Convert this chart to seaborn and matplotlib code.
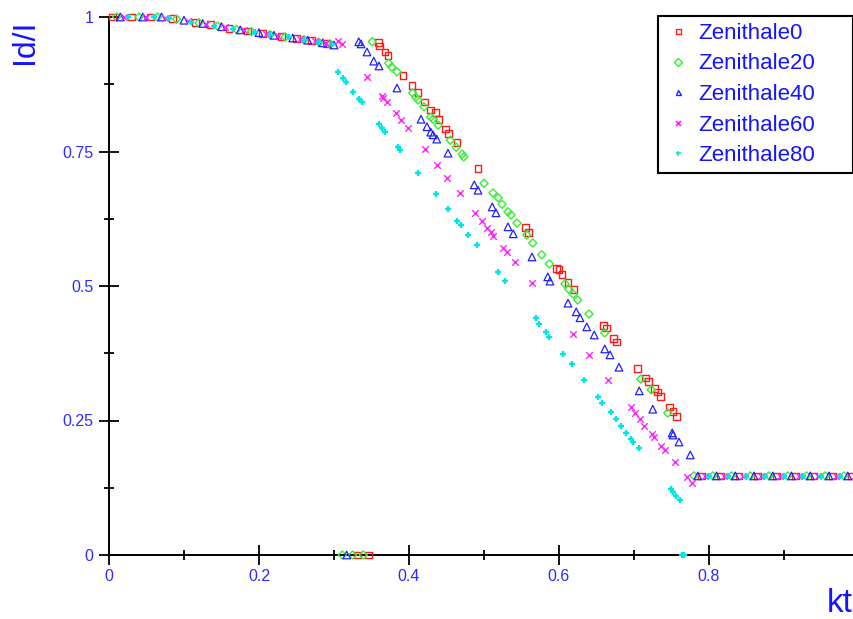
import matplotlib
matplotlib.use("Agg")
import matplotlib.pyplot as plt
import pandas as pd
import seaborn as sns
from matplotlib.lines import Line2D
from matplotlib.ticker import FixedLocator, FuncFormatter

# ---------------- data ----------------
series_names = ["Zenithale0", "Zenithale20", "Zenithale40", "Zenithale60", "Zenithale80"]

kt_z0 = [0.005, 0.03, 0.055, 0.085, 0.115, 0.135, 0.16, 0.185, 0.205, 0.23, 0.25, 0.27, 0.29,
         0.331, 0.346,
         0.359, 0.361, 0.368, 0.372, 0.392, 0.404, 0.412, 0.421, 0.429, 0.435, 0.440, 0.449, 0.453,
         0.464, 0.492, 0.555, 0.559, 0.597, 0.600, 0.604, 0.612, 0.620, 0.659, 0.663, 0.673, 0.677,
         0.705, 0.715, 0.719, 0.727, 0.731, 0.735, 0.747, 0.752, 0.757,
         0.79, 0.815, 0.84, 0.865, 0.89, 0.915, 0.94, 0.965, 0.99]
id_z0 = [1.0, 1.0, 1.0, 0.997, 0.990, 0.986, 0.979, 0.974, 0.970, 0.964, 0.960, 0.956, 0.951,
         0.0, 0.0,
         0.952, 0.946, 0.935, 0.928, 0.892, 0.872, 0.859, 0.842, 0.827, 0.822, 0.809, 0.792, 0.784,
         0.766, 0.719, 0.608, 0.600, 0.533, 0.530, 0.522, 0.507, 0.494, 0.426, 0.422, 0.403, 0.396,
         0.346, 0.329, 0.323, 0.310, 0.303, 0.294, 0.275, 0.266, 0.257,
         0.147, 0.147, 0.147, 0.147, 0.147, 0.147, 0.147, 0.147, 0.147]

kt_z20 = [0.01, 0.04, 0.065, 0.09, 0.12, 0.145, 0.17, 0.19, 0.215, 0.235, 0.26, 0.28, 0.295,
          0.311, 0.325, 0.339,
          0.351, 0.373, 0.377, 0.384, 0.405, 0.409, 0.412, 0.420, 0.429, 0.432, 0.439, 0.455, 0.463,
          0.471, 0.473, 0.500, 0.512, 0.519, 0.524, 0.532, 0.536, 0.544, 0.557, 0.565, 0.577, 0.587,
          0.608, 0.613, 0.619, 0.625, 0.640, 0.661, 0.709, 0.723, 0.745,
          0.78, 0.805, 0.83, 0.855, 0.88, 0.905, 0.93, 0.955, 0.98]
id_z20 = [1.0, 1.0, 1.0, 0.996, 0.989, 0.983, 0.977, 0.973, 0.967, 0.963, 0.958, 0.953, 0.950,
          0.0, 0.0, 0.0,
          0.954, 0.914, 0.907, 0.898, 0.859, 0.851, 0.846, 0.833, 0.814, 0.810, 0.799, 0.771, 0.758,
          0.745, 0.740, 0.691, 0.673, 0.664, 0.652, 0.638, 0.632, 0.617, 0.595, 0.580, 0.558, 0.541,
          0.504, 0.494, 0.485, 0.474, 0.448, 0.413, 0.327, 0.307, 0.264,
          0.147, 0.147, 0.147, 0.147, 0.147, 0.147, 0.147, 0.147, 0.147]

kt_z40 = [0.015, 0.045, 0.07, 0.1, 0.125, 0.15, 0.175, 0.2, 0.22, 0.245, 0.265, 0.285, 0.3,
          0.317,
          0.333, 0.336, 0.344, 0.353, 0.360, 0.384, 0.416, 0.424, 0.429, 0.432, 0.437, 0.452, 0.487,
          0.492, 0.511, 0.516, 0.532, 0.539, 0.564, 0.585, 0.588, 0.612, 0.623, 0.628, 0.637, 0.647,
          0.661, 0.668, 0.680, 0.707, 0.725, 0.751, 0.752, 0.760, 0.775,
          0.785, 0.81, 0.835, 0.86, 0.885, 0.91, 0.935, 0.96, 0.985]
id_z40 = [1.0, 1.0, 1.0, 0.994, 0.988, 0.982, 0.976, 0.971, 0.966, 0.961, 0.957, 0.952, 0.948,
          0.0,
          0.954, 0.950, 0.935, 0.918, 0.909, 0.868, 0.810, 0.796, 0.786, 0.781, 0.773, 0.747, 0.688,
          0.678, 0.647, 0.636, 0.610, 0.597, 0.554, 0.517, 0.509, 0.468, 0.452, 0.441, 0.424, 0.409,
          0.383, 0.372, 0.349, 0.305, 0.271, 0.227, 0.223, 0.210, 0.186,
          0.147, 0.147, 0.147, 0.147, 0.147, 0.147, 0.147, 0.147, 0.147]

kt_z60 = [0.02, 0.05, 0.075, 0.105, 0.13, 0.155, 0.18, 0.21, 0.225, 0.255, 0.275, 0.29,
          0.305, 0.311, 0.344, 0.364, 0.365, 0.371, 0.383, 0.389, 0.399, 0.421, 0.437, 0.451, 0.468,
          0.488, 0.497, 0.504, 0.509, 0.512, 0.525, 0.531, 0.541, 0.564, 0.619, 0.640, 0.665, 0.696,
          0.701, 0.708, 0.713, 0.724, 0.727, 0.736, 0.741, 0.755, 0.771, 0.777,
          0.795, 0.82, 0.845, 0.87, 0.895, 0.92, 0.945, 0.97, 0.995]
id_z60 = [1.0, 1.0, 0.999, 0.993, 0.987, 0.981, 0.975, 0.968, 0.965, 0.959, 0.955, 0.951,
          0.955, 0.950, 0.888, 0.853, 0.849, 0.842, 0.822, 0.809, 0.794, 0.755, 0.725, 0.701, 0.673,
          0.636, 0.621, 0.608, 0.600, 0.593, 0.571, 0.563, 0.545, 0.506, 0.411, 0.372, 0.325, 0.275,
          0.264, 0.253, 0.240, 0.225, 0.219, 0.203, 0.195, 0.173, 0.145, 0.134,
          0.147, 0.147, 0.147, 0.147, 0.147, 0.147, 0.147, 0.147, 0.147]

kt_z80 = [0.025, 0.06, 0.08, 0.11, 0.14, 0.165, 0.195, 0.215, 0.24, 0.26, 0.28, 0.298,
          0.764, 0.767,
          0.305, 0.312, 0.316, 0.325, 0.333, 0.337, 0.360, 0.364, 0.368, 0.385, 0.388, 0.412, 0.436,
          0.452, 0.464, 0.469, 0.479, 0.491, 0.519, 0.528, 0.569, 0.573, 0.583, 0.587, 0.605, 0.617,
          0.633, 0.652, 0.657, 0.669, 0.676, 0.683, 0.689, 0.696, 0.699, 0.707, 0.749, 0.752, 0.756,
          0.761,
          0.8, 0.825, 0.85, 0.875, 0.9, 0.925, 0.95, 0.975, 1.0]
id_z80 = [1.0, 1.0, 0.998, 0.991, 0.984, 0.978, 0.972, 0.967, 0.962, 0.958, 0.953, 0.949,
          0.0, 0.0,
          0.898, 0.887, 0.879, 0.861, 0.848, 0.842, 0.801, 0.794, 0.786, 0.758, 0.753, 0.710, 0.671,
          0.643, 0.621, 0.613, 0.595, 0.576, 0.526, 0.509, 0.441, 0.429, 0.414, 0.405, 0.374, 0.355,
          0.325, 0.294, 0.283, 0.266, 0.253, 0.240, 0.227, 0.216, 0.210, 0.199, 0.123, 0.117, 0.110,
          0.102,
          0.147, 0.147, 0.147, 0.147, 0.147, 0.147, 0.147, 0.147, 0.147]

x_ticks = [0.0, 0.2, 0.4, 0.6, 0.8]
x_minor = [0.1, 0.3, 0.5, 0.7, 0.9]
y_ticks = [0.0, 0.25, 0.5, 0.75, 1.0]
y_minor = [0.125, 0.375, 0.625, 0.875]
x_label = "kt"
y_label = "Id/I"

# ---------------- build table ----------------
kts = [kt_z0, kt_z20, kt_z40, kt_z60, kt_z80]
ids = [id_z0, id_z20, id_z40, id_z60, id_z80]
frames = []
for name, k, v in zip(series_names, kts, ids):
    frames.append(pd.DataFrame({"kt": k, "IdI": v, "series": name}))
df = pd.concat(frames, ignore_index=True)

# ---------------- style ----------------
sns.set_style("white")
plt.rcParams['font.family'] = ['Liberation Sans', 'DejaVu Sans']

styles = {
    "Zenithale0":  dict(marker="s", color="#ff1a1a", s=24, lw=1.0, hollow=True),
    "Zenithale20": dict(marker="D", color="#33ee33", s=17, lw=1.0, hollow=True),
    "Zenithale40": dict(marker="^", color="#2020ff", s=30, lw=0.9, hollow=True),
    "Zenithale60": dict(marker="x", color="#ff22ff", s=22, lw=1.0, hollow=False),
    "Zenithale80": dict(marker="+", color="#00e5e5", s=18, lw=1.7, hollow=False),
}

text_blue = "#1414ff"
tick_blue = "#2c2cff"

fig = plt.figure(figsize=(8.54, 6.19), dpi=100)
ax = fig.add_axes([109 / 854, 64 / 619, 750 / 854, 538 / 619])

for name in series_names:
    st = styles[name]
    sub = df[df["series"] == name]
    kw = dict(marker=st["marker"], s=st["s"], linewidth=st["lw"], clip_on=False,
              legend=False, zorder=3)
    if st["hollow"]:
        kw.update(color=st["color"], facecolor="none", edgecolor=st["color"])
    else:
        kw.update(color=st["color"])
    sns.scatterplot(data=sub, x="kt", y="IdI", ax=ax, **kw)

ax.set_xlim(0, 1)
ax.set_ylim(0, 1)

for side in ["top", "right"]:
    ax.spines[side].set_visible(False)
for side in ["left", "bottom"]:
    ax.spines[side].set_color("black")
    ax.spines[side].set_linewidth(1.4)

ax.xaxis.set_major_locator(FixedLocator(x_ticks))
ax.yaxis.set_major_locator(FixedLocator(y_ticks))
ax.xaxis.set_minor_locator(FixedLocator(x_minor))
ax.yaxis.set_minor_locator(FixedLocator(y_minor))
fmt = FuncFormatter(lambda v, p: f"{v:g}")
ax.xaxis.set_major_formatter(fmt)
ax.yaxis.set_major_formatter(fmt)

ax.tick_params(which="major", direction="inout", length=13.7, width=1.3, color="black",
               labelsize=11.5, labelcolor=tick_blue)
ax.tick_params(which="minor", direction="inout", length=7.9, width=1.3, color="black")
ax.tick_params(axis="x", which="major", pad=3.0)
ax.tick_params(axis="y", which="major", pad=4.3)
ax.tick_params(left=True, bottom=True, which="both")

ax.set_xlabel(x_label, fontsize=24, color=text_blue, va="center", ha="right")
ax.xaxis.set_label_coords((853 - 109) / 750, (555 - 604) / 538)
ax.set_ylabel(y_label, fontsize=23, color=text_blue, va="center", ha="center")
ax.yaxis.set_label_coords((25 - 109) / 750, (555 - 42) / 538)

handles = []
for name in series_names:
    st = styles[name]
    if st["hollow"]:
        h = Line2D([], [], linestyle="none", marker=st["marker"], markersize=3.6,
                   markerfacecolor="none", markeredgecolor=st["color"], markeredgewidth=1.0)
    else:
        h = Line2D([], [], linestyle="none", marker=st["marker"], markersize=3.6,
                   color=st["color"], markeredgewidth=1.2)
    handles.append(h)

leg = fig.legend(handles, series_names, loc="upper left",
                 bbox_to_anchor=(658 / 854, (619 - 171) / 619, 195 / 854, 155 / 619),
                 bbox_transform=fig.transFigure, mode="expand", borderaxespad=0,
                 frameon=True, fancybox=False, framealpha=1, edgecolor="black",
                 prop={"size": 16}, labelcolor=text_blue,
                 borderpad=0.31, handlelength=1.18, handletextpad=0.31, labelspacing=0.43)
leg.get_frame().set_linewidth(1.5)

fig.savefig("out.png", dpi=100)
